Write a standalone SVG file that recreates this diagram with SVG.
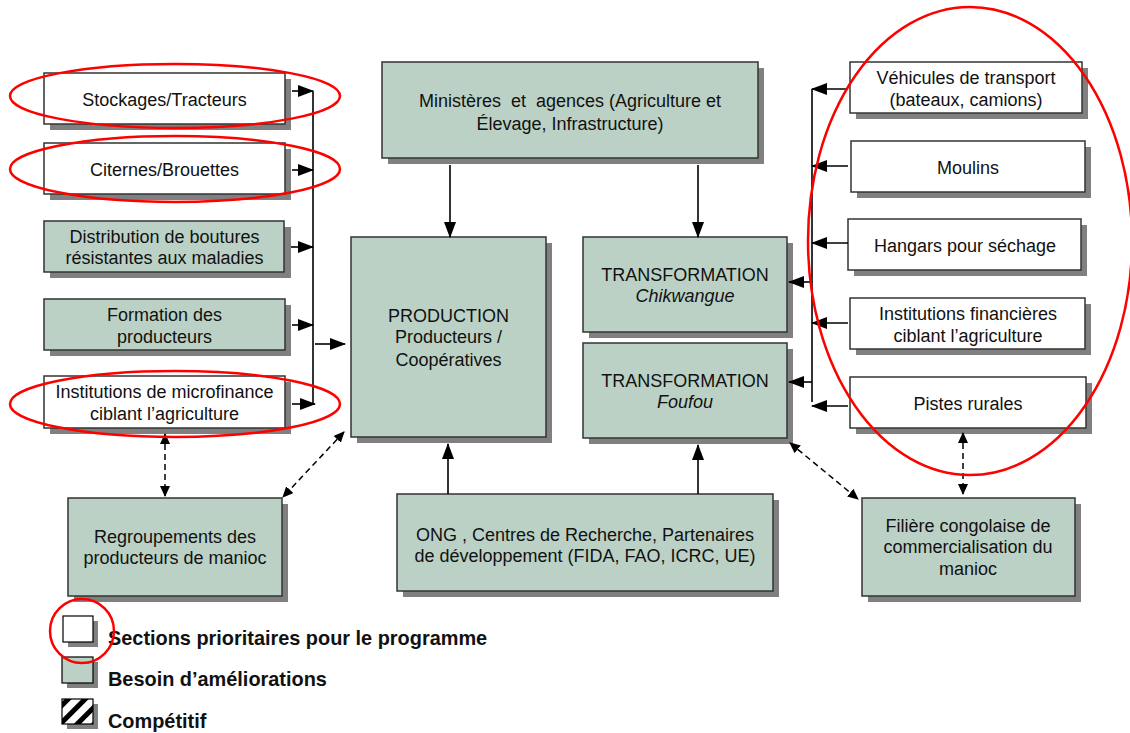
<svg xmlns="http://www.w3.org/2000/svg" width="1130" height="733" viewBox="0 0 1130 733">
<defs>
<style>
.box{stroke:#333;stroke-width:1.5}
.w{fill:#fff}
.g{fill:#bcd1c5}
.sh{fill:#808080}
text{font-family:"Liberation Sans",Arial,sans-serif;font-size:18px;fill:#111;text-anchor:middle}
.it{font-style:italic}
.lg{font-weight:bold;font-size:19.9px;text-anchor:start}
.c{stroke:#000;stroke-width:1.6;fill:none}
.d{stroke:#000;stroke-width:1.5;fill:none;stroke-dasharray:6,4}
.red{stroke:#f00;stroke-width:2.5;fill:none}
</style>
<marker id="ah" markerWidth="16" markerHeight="12" refX="15" refY="6" orient="auto" markerUnits="userSpaceOnUse"><path d="M0,0 L16,6 L0,12 Z" fill="#000"/></marker>
<marker id="dh" markerWidth="11" markerHeight="10" refX="10" refY="5" orient="auto" markerUnits="userSpaceOnUse"><path d="M0,0 L11,5 L0,10 Z" fill="#000"/></marker>
<marker id="dt" markerWidth="11" markerHeight="10" refX="1" refY="5" orient="auto" markerUnits="userSpaceOnUse"><path d="M11,0 L0,5 L11,10 Z" fill="#000"/></marker>
<pattern id="hatch" patternUnits="userSpaceOnUse" width="12" height="12" patternTransform="rotate(45)"><rect width="12" height="12" fill="#fff"/><rect width="5" height="12" fill="#000"/></pattern>
</defs>

<g id="stockages"><rect class="sh" x="50" y="79" width="241" height="51"/><rect class="box w" x="44" y="73" width="241" height="51"/><text x="164.5" y="106">Stockages/Tracteurs</text></g>
<g id="citernes"><rect class="sh" x="50" y="149" width="241" height="51"/><rect class="box w" x="44" y="143" width="241" height="51"/><text x="164.5" y="176">Citernes/Brouettes</text></g>
<g id="distribution"><rect class="sh" x="50" y="227" width="241" height="51"/><rect class="box g" x="44" y="221" width="240" height="51"/><text x="164.5" y="243">Distribution de boutures</text><text x="164.5" y="264">résistantes aux maladies</text></g>
<g id="formation"><rect class="sh" x="50" y="305" width="241" height="51"/><rect class="box g" x="44" y="299" width="241" height="51"/><text x="164.5" y="321">Formation des</text><text x="164.5" y="343">producteurs</text></g>
<g id="microfinance"><rect class="sh" x="50" y="382" width="241" height="52"/><rect class="box w" x="44" y="376" width="241" height="52"/><text x="164.5" y="398">Institutions de microfinance</text><text x="164.5" y="420">ciblant l’agriculture</text></g>

<g id="ministeres"><rect class="sh" x="388" y="68" width="376" height="96"/><rect class="box g" x="382" y="62" width="376" height="96"/><text x="570" y="107" xml:space="preserve">Ministères  et  agences (Agriculture et</text><text x="570" y="130">Élevage, Infrastructure)</text></g>
<g id="production"><rect class="sh" x="357" y="243" width="195" height="200"/><rect class="box g" x="351" y="237" width="195" height="200"/><text x="448.5" y="322">PRODUCTION</text><text x="448.5" y="343">Producteurs /</text><text x="448.5" y="366">Coopératives</text></g>
<g id="transfo-chik"><rect class="sh" x="589" y="243" width="204" height="95"/><rect class="box g" x="583" y="237" width="204" height="95"/><text x="685" y="281">TRANSFORMATION</text><text class="it" x="685" y="302">Chikwangue</text></g>
<g id="transfo-fou"><rect class="sh" x="589" y="349" width="204" height="95"/><rect class="box g" x="583" y="343" width="204" height="95"/><text x="685" y="387">TRANSFORMATION</text><text class="it" x="685" y="408">Foufou</text></g>

<g id="vehicules"><rect class="sh" x="856" y="68" width="232" height="51"/><rect class="box w" x="850" y="62" width="232" height="51"/><text x="966" y="84">Véhicules de transport</text><text x="966" y="106">(bateaux, camions)</text></g>
<g id="moulins"><rect class="sh" x="857" y="147" width="234" height="51"/><rect class="box w" x="851" y="141" width="234" height="51"/><text x="968" y="174">Moulins</text></g>
<g id="hangars"><rect class="sh" x="854" y="225" width="233" height="51"/><rect class="box w" x="848" y="219" width="233" height="51"/><text x="965" y="252">Hangars pour séchage</text></g>
<g id="institutions-fin"><rect class="sh" x="856" y="304" width="235" height="51"/><rect class="box w" x="850" y="298" width="235" height="51"/><text x="968" y="320">Institutions financières</text><text x="968" y="342">ciblant l’agriculture</text></g>
<g id="pistes"><rect class="sh" x="856" y="383" width="236" height="51"/><rect class="box w" x="850" y="377" width="236" height="51"/><text x="968" y="410">Pistes rurales</text></g>

<g id="regroupements"><rect class="sh" x="74" y="504" width="214" height="98"/><rect class="box g" x="68" y="498" width="214" height="98"/><text x="175" y="543">Regroupements des</text><text x="175" y="564">producteurs de manioc</text></g>
<g id="ong"><rect class="sh" x="403" y="500" width="376" height="97"/><rect class="box g" x="397" y="494" width="376" height="97"/><text x="585" y="541">ONG , Centres de Recherche, Partenaires</text><text x="585" y="562">de développement (FIDA, FAO, ICRC, UE)</text></g>
<g id="filiere"><rect class="sh" x="868" y="504" width="213" height="98"/><rect class="box g" x="862" y="498" width="213" height="98"/><text x="968" y="532">Filière congolaise de</text><text x="968" y="553">commercialisation du</text><text x="968" y="575">manioc</text></g>

<g id="connectors">
<line class="c" x1="313" y1="91" x2="313" y2="404"/>
<line class="c" x1="292" y1="91" x2="313" y2="91" marker-end="url(#ah)"/>
<line class="c" x1="292" y1="170" x2="313" y2="170" marker-end="url(#ah)"/>
<line class="c" x1="291" y1="247" x2="313" y2="247" marker-end="url(#ah)"/>
<line class="c" x1="292" y1="325" x2="313" y2="325" marker-end="url(#ah)"/>
<line class="c" x1="292" y1="404" x2="315" y2="404" marker-end="url(#ah)"/>
<line class="c" x1="315" y1="344" x2="345" y2="344" marker-end="url(#ah)"/>
<line class="c" x1="450" y1="165" x2="450" y2="237" marker-end="url(#ah)"/>
<line class="c" x1="698" y1="165" x2="698" y2="237" marker-end="url(#ah)"/>
<line class="c" x1="448" y1="494" x2="448" y2="444" marker-end="url(#ah)"/>
<line class="c" x1="698" y1="494" x2="698" y2="445" marker-end="url(#ah)"/>
<line class="c" x1="812" y1="89" x2="812" y2="402"/>
<line class="c" x1="848" y1="89" x2="812" y2="89" marker-end="url(#ah)"/>
<line class="c" x1="848" y1="166" x2="812" y2="166" marker-end="url(#ah)"/>
<line class="c" x1="848" y1="243" x2="812" y2="243" marker-end="url(#ah)"/>
<line class="c" x1="848" y1="323" x2="812" y2="323" marker-end="url(#ah)"/>
<line class="c" x1="848" y1="406" x2="812" y2="406" marker-end="url(#ah)"/>
<line class="c" x1="812" y1="282" x2="789" y2="282" marker-end="url(#ah)"/>
<line class="c" x1="812" y1="382" x2="789" y2="382" marker-end="url(#ah)"/>
<line class="d" x1="165" y1="434" x2="165" y2="496" marker-start="url(#dt)" marker-end="url(#dh)"/>
<line class="d" x1="344" y1="432" x2="283" y2="497" marker-start="url(#dt)" marker-end="url(#dh)"/>
<line class="d" x1="790" y1="443" x2="858" y2="499" marker-start="url(#dt)" marker-end="url(#dh)"/>
<line class="d" x1="963" y1="433" x2="963" y2="494" marker-start="url(#dt)" marker-end="url(#dh)"/>
</g>

<g id="legend">
<rect class="sh" x="68" y="621" width="30" height="26"/><rect x="63" y="616" width="30" height="26" fill="#fff" stroke="#000" stroke-width="1.2"/>
<text class="lg" x="108" y="645">Sections prioritaires pour le programme</text>
<rect class="sh" x="67" y="662" width="31" height="26"/><rect x="62" y="657" width="31" height="26" fill="#bcd1c5" stroke="#000" stroke-width="1.2"/>
<text class="lg" x="108" y="686">Besoin d’améliorations</text>
<rect class="sh" x="67" y="704" width="31" height="25"/><rect x="62" y="699" width="31" height="25" fill="url(#hatch)" stroke="#000" stroke-width="1.2"/>
<text class="lg" x="108" y="728">Compétitif</text>
</g>

<g id="highlights">
<ellipse class="red" cx="175" cy="96" rx="165" ry="32"/>
<ellipse class="red" cx="175" cy="169" rx="165" ry="33"/>
<ellipse class="red" cx="175" cy="404" rx="165" ry="33"/>
<ellipse class="red" cx="970" cy="241" rx="162" ry="234"/>
<circle class="red" cx="82" cy="631" r="32"/>
</g>
</svg>
